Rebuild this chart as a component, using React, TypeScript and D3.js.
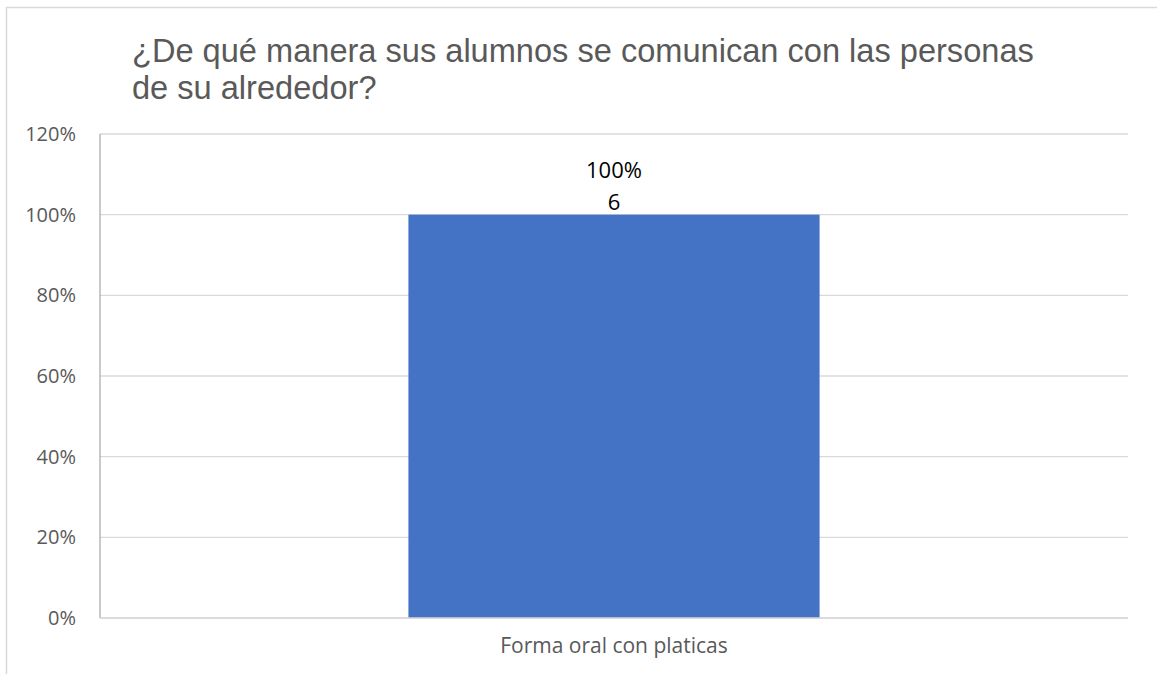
import { useEffect, useRef } from "react"
import * as d3 from "d3"

const categories = ["Forma oral con platicas"]
const percentValues = [1.0]
const countValues = [6]
const yTicks = [0, 0.2, 0.4, 0.6, 0.8, 1.0, 1.2]
const titleLines = ["¿De qué manera sus alumnos se comunican con las personas", "de su alrededor?"]

export default function App() {
  const svgRef = useRef<SVGSVGElement>(null)

  useEffect(() => {
    if (!svgRef.current) return
    const width = 1157
    const height = 674
    const svg = d3.select(svgRef.current)
    svg.selectAll("*").remove()

    const margin = { top: 134, right: 29, bottom: 56, left: 100 }
    const innerW = width - margin.left - margin.right
    const innerH = height - margin.top - margin.bottom

    // outer chart border (only top and left visible)
    svg.append("rect").attr("width", width).attr("height", height).attr("fill", "white")
    svg.append("line").attr("x1", 6).attr("x2", width).attr("y1", 7.5).attr("y2", 7.5)
      .attr("stroke", "#d9d9d9").attr("stroke-width", 1.5)
    svg.append("line").attr("x1", 6.5).attr("x2", 6.5).attr("y1", 7).attr("y2", height)
      .attr("stroke", "#d9d9d9").attr("stroke-width", 1.5)

    // title
    const title = svg.append("text")
      .attr("x", 132)
      .attr("y", 62)
      .attr("fill", "#595959")
      .style("font-family", "'Liberation Sans', Arial, sans-serif")
      .style("font-size", "32.6px")
    titleLines.forEach((t, i) => {
      title.append("tspan").attr("x", 132).attr("dy", i === 0 ? 0 : 36.5).text(t)
    })

    const g = svg.append("g").attr("transform", `translate(${margin.left},${margin.top})`)

    const x = d3.scaleBand().domain(categories).range([0, innerW]).padding(0.4286)
    const y = d3.scaleLinear().domain([0, 1.2]).range([innerH, 0])

    // gridlines
    g.append("g")
      .selectAll("line")
      .data(yTicks)
      .join("line")
      .attr("x1", 0)
      .attr("x2", innerW)
      .attr("y1", (d) => y(d))
      .attr("y2", (d) => y(d))
      .attr("stroke", "#d9d9d9")
      .attr("stroke-width", 1.3)

    // y tick labels
    g.append("g")
      .selectAll("text")
      .data(yTicks)
      .join("text")
      .attr("x", -24)
      .attr("y", (d) => y(d))
      .attr("dy", "0.35em")
      .attr("text-anchor", "end")
      .attr("fill", "#595959")
      .style("font-family", "'Open Sans', 'Noto Sans', sans-serif")
      .style("font-size", "20px")
      .text((d) => d3.format(".0%")(d))

    // left axis line
    g.append("line").attr("x1", 0).attr("x2", 0).attr("y1", 0).attr("y2", innerH)
      .attr("stroke", "#a6a6a6").attr("stroke-width", 1.2)

    // bars
    g.selectAll(".bar")
      .data(categories)
      .join("rect")
      .attr("class", "bar")
      .attr("x", (d) => x(d) || 0)
      .attr("width", x.bandwidth())
      .attr("y", (_, i) => y(percentValues[i]))
      .attr("height", (_, i) => innerH - y(percentValues[i]))
      .attr("fill", "#4472c4")

    // bottom axis line over bar
    g.append("line").attr("x1", 0).attr("x2", innerW).attr("y1", innerH).attr("y2", innerH)
      .attr("stroke", "#d9d9d9").attr("stroke-width", 1.3)

    // data labels
    categories.forEach((c, i) => {
      const cx = (x(c) || 0) + x.bandwidth() / 2
      const top = y(percentValues[i])
      const lbl = g.append("text")
        .attr("text-anchor", "middle")
        .attr("fill", "#000")
        .style("font-family", "'Open Sans', 'Noto Sans', sans-serif")
        .style("font-size", "22px")
      lbl.append("tspan").attr("x", cx).attr("y", top - 37).text(d3.format(".0%")(percentValues[i]))
      lbl.append("tspan").attr("x", cx).attr("y", top - 5).text(String(countValues[i]))
    })

    // x labels
    g.append("g")
      .selectAll("text")
      .data(categories)
      .join("text")
      .attr("x", (d) => (x(d) || 0) + x.bandwidth() / 2)
      .attr("y", innerH + 35)
      .attr("text-anchor", "middle")
      .attr("fill", "#595959")
      .style("font-family", "'Open Sans', 'Noto Sans', sans-serif")
      .style("font-size", "21px")
      .text((d) => d)
  }, [])

  return (
    <svg
      ref={svgRef}
      width={1157}
      height={674}
      style={{ position: "absolute", left: 0, top: 0, display: "block" }}
    />
  )
}
